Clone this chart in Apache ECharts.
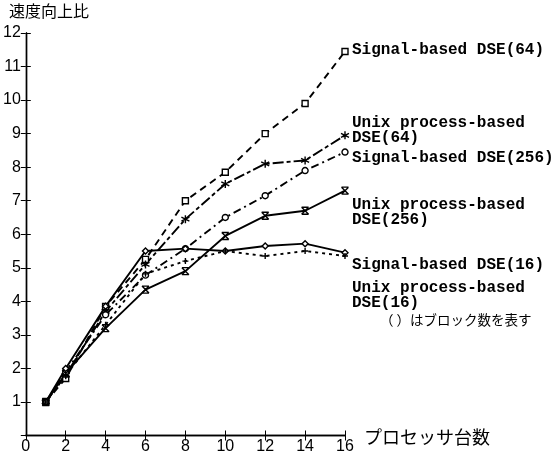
<!DOCTYPE html>
<html><head><meta charset="utf-8">
<script src="https://cdn.jsdelivr.net/npm/echarts@6/dist/echarts.min.js"></script>
<style>html,body{margin:0;padding:0;background:#fff}#c{width:552px;height:458px}</style>
</head><body><div id="c"></div>
<script>
const processors = [1, 2, 4, 6, 8, 10, 12, 14, 16];
const signal64 = [1, 1.7, 3.85, 5.25, 7.0, 7.85, 9.0, 9.9, 11.45];
const unix64 = [1, 1.8, 3.7, 5.1, 6.45, 7.5, 8.1, 8.2, 8.95];
const signal256 = [1, 1.9, 3.6, 4.78, 5.57, 6.5, 7.15, 7.9, 8.45];
const unix256 = [1, 1.85, 3.2, 4.35, 4.9, 5.95, 6.55, 6.7, 7.3];
const signal16 = [1, 2.0, 3.85, 5.5, 5.57, 5.5, 5.65, 5.72, 5.45];
const unix16 = [1, 1.8, 3.3, 4.82, 5.2, 5.5, 5.35, 5.5, 5.35];
const xTicks = [0, 2, 4, 6, 8, 10, 12, 14, 16];
const yTicks = [1, 2, 3, 4, 5, 6, 7, 8, 9, 10, 11, 12];

const chart = echarts.init(document.getElementById('c'));
const pair = arr => processors.map((x, i) => [x, arr[i]]);
const star = 'path://M0,-10L0,10M-9,-5L9,5M-9,5L9,-5';
const cross = 'path://M-8,-8L8,8M-8,8L8,-8M-8,-8L8,-8M-8,8L8,8';
const plus = 'path://M0,-8L0,8M-8,0L8,0';
function s(name, data, type, symbol, size) {
  return {
    name, type: 'line', data: pair(data), symbol, symbolSize: size || 6,
    showAllSymbol: true,
    lineStyle: { color: '#000', width: 1.9, type },
    itemStyle: { color: '#fff', borderColor: '#000', borderWidth: 1.4 },
    animation: false
  };
}
const axisFont = { fontFamily: 'Liberation Sans', fontSize: 16, color: '#000' };
const mono = { fontFamily: 'Liberation Mono', fontWeight: 'bold', fontSize: 16, fill: '#000' };
const jp = { fontFamily: 'Noto Sans CJK JP', fill: '#000' };
function t(x, y, text, style) {
  return { type: 'text', left: x, top: y, style: Object.assign({ text }, style) };
}
chart.setOption({
  animation: false,
  grid: { left: 24, right: 207, top: 33, bottom: 22.5 },
  xAxis: [
    { type: 'value', min: 0, max: 16, interval: 2,
      axisLine: { lineStyle: { color: '#000', width: 1.4 } },
      axisTick: { inside: true, length: 5, lineStyle: { color: '#000' } },
      axisLabel: Object.assign({ margin: 3, formatter: v => xTicks.includes(v) ? String(v) : '' }, axisFont),
      splitLine: { show: false } },
    { type: 'value', min: 0, max: 16, interval: 2, position: 'top',
      axisLine: { lineStyle: { color: '#000', width: 1.4 } },
      axisTick: { inside: true, length: 5, lineStyle: { color: '#000' } },
      axisLabel: { show: false }, splitLine: { show: false } }
  ],
  yAxis: [
    { type: 'value', min: 0, max: 12, interval: 1,
      axisLine: { show: true, lineStyle: { color: '#000', width: 1.4 } },
      axisTick: { show: true, inside: true, length: 5, lineStyle: { color: '#000' } },
      axisLabel: Object.assign({ margin: 5, formatter: v => yTicks.includes(v) ? String(v) : '' }, axisFont),
      splitLine: { show: false } },
    { type: 'value', min: 0, max: 12, interval: 1, position: 'right',
      axisLine: { show: true, lineStyle: { color: '#000', width: 1.4 } },
      axisTick: { show: true, inside: true, length: 5, lineStyle: { color: '#000' } },
      axisLabel: { show: false }, splitLine: { show: false } }
  ],
  series: [
    s('Signal-based DSE(64)', signal64, [7, 5], 'rect', 6),
    s('Unix process-based DSE(64)', unix64, [11, 3, 4, 3], star, 8),
    s('Signal-based DSE(256)', signal256, [8, 4, 2, 4], 'circle', 6),
    s('Unix process-based DSE(256)', unix256, 'solid', cross, 7),
    s('Signal-based DSE(16)', signal16, 'solid', 'diamond', 6),
    s('Unix process-based DSE(16)', unix16, [3, 4], plus, 6)
  ],
  graphic: [
    t(9, 3, '速度向上比', Object.assign({ fontSize: 16 }, jp)),
    t(352, 42, 'Signal-based DSE(64)', mono),
    t(352, 115, 'Unix process-based', mono),
    t(352, 130, 'DSE(64)', mono),
    t(352, 150, 'Signal-based DSE(256)', mono),
    t(352, 197, 'Unix process-based', mono),
    t(352, 212, 'DSE(256)', mono),
    t(352, 257, 'Signal-based DSE(16)', mono),
    t(352, 280, 'Unix process-based', mono),
    t(352, 295, 'DSE(16)', mono),
    t(380, 313, '（ ）はブロック数を表す', Object.assign({ fontSize: 13.5 }, jp)),
    t(364, 428, 'プロセッサ台数', Object.assign({ fontSize: 18 }, jp))
  ]
});
</script></body></html>
